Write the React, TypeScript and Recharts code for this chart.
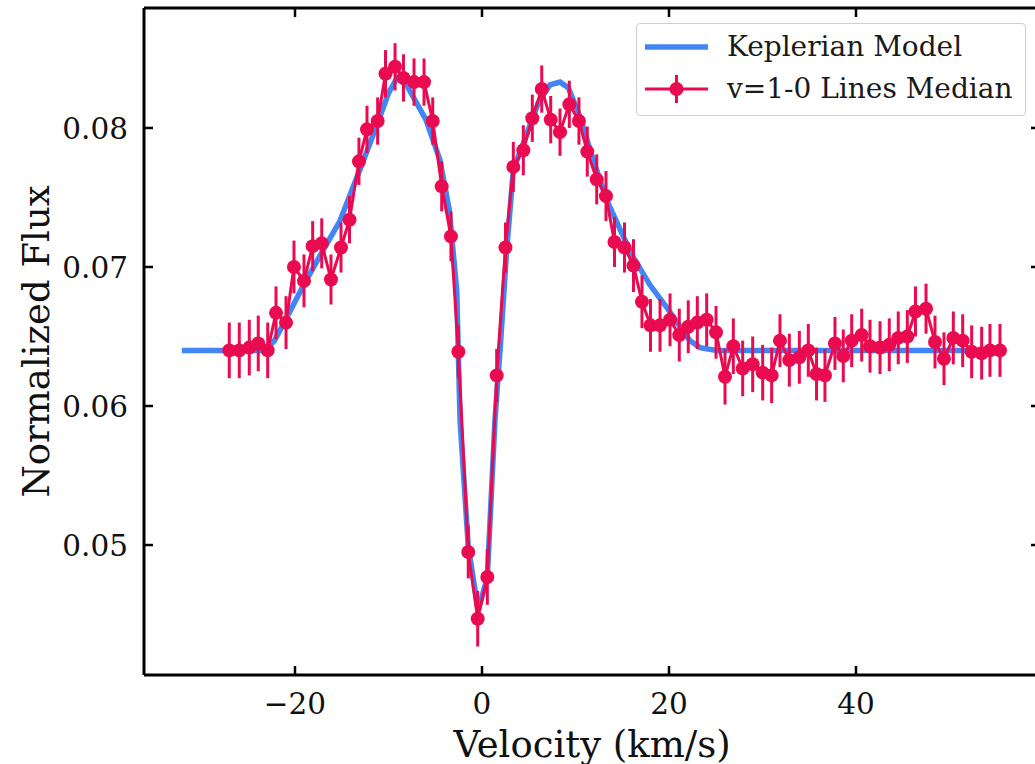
import React from 'react';
import { ComposedChart, Line, XAxis, YAxis, ErrorBar, Legend, Label } from 'recharts';

// Observed median line profile (v=1-0 lines)
const obsVelocity = [
  -27.03, -25.96, -24.89, -23.93, -22.92, -22.03, -20.96, -20.11, -19.04, -18.11,
  -17.14, -16.15, -15.08, -14.17, -13.16, -12.3, -11.16, -10.32, -9.3, -8.4,
  -7.27, -6.2, -5.27, -4.31, -3.32, -2.53, -1.47, -0.46, 0.57, 1.57,
  2.51, 3.35, 4.42, 5.38, 6.39, 7.35, 8.34, 9.34, 10.37, 11.26,
  12.27, 13.26, 14.17, 15.24, 16.2, 17.11, 18.02, 19.04, 20.11, 21.1,
  22.06, 23.03, 24.03, 25.03, 25.99, 26.88, 27.88, 28.95, 30.02, 30.98,
  31.87, 32.87, 33.94, 34.9, 35.78, 36.68, 37.75, 38.64, 39.54, 40.61,
  41.5, 42.57, 43.56, 44.52, 45.49, 46.36, 47.49, 48.45, 49.41, 50.41,
  51.41, 52.37, 53.44, 54.33, 55.4,
];
const obsFlux = [
  0.064, 0.064, 0.0642, 0.0645, 0.064, 0.0667, 0.066, 0.07, 0.069, 0.0715,
  0.0717, 0.0691, 0.0714, 0.0734, 0.0776, 0.0799, 0.0805, 0.0839, 0.0844, 0.0836,
  0.0833, 0.0833, 0.0805, 0.0758, 0.0722, 0.0639, 0.0495, 0.0447, 0.0477, 0.0622,
  0.0714, 0.0772, 0.0784, 0.0807, 0.0828, 0.0806, 0.0797, 0.0817, 0.0805, 0.0783,
  0.0763, 0.0751, 0.0718, 0.0714, 0.0701, 0.0675, 0.0658, 0.0658, 0.0662, 0.0651,
  0.0657, 0.066, 0.0662, 0.0653, 0.0621, 0.0643, 0.0627, 0.063, 0.0624, 0.0622,
  0.0647, 0.0633, 0.0635, 0.064, 0.0623, 0.0622, 0.0645, 0.0636, 0.0647, 0.0651,
  0.0643, 0.0642, 0.0644, 0.0649, 0.065, 0.0668, 0.067, 0.0646, 0.0634, 0.0649,
  0.0647, 0.0639, 0.0638, 0.064, 0.064,
];
const obsError = [
  0.002, 0.002, 0.002, 0.002, 0.002, 0.0019, 0.0019, 0.0019, 0.0019, 0.0018,
  0.0018, 0.0018, 0.0018, 0.0017, 0.0017, 0.0017, 0.0017, 0.0017, 0.0017, 0.0017,
  0.0017, 0.0017, 0.0017, 0.0018, 0.0018, 0.0019, 0.0019, 0.002, 0.002, 0.0019,
  0.0018, 0.0018, 0.0018, 0.0017, 0.0017, 0.0017, 0.0017, 0.0017, 0.0017, 0.0018,
  0.0018, 0.0018, 0.0018, 0.0018, 0.0019, 0.0019, 0.0019, 0.0019, 0.0019, 0.0019,
  0.0019, 0.0019, 0.0019, 0.0019, 0.002, 0.002, 0.002, 0.002, 0.002, 0.002,
  0.0019, 0.0019, 0.0019, 0.0019, 0.0019, 0.0019, 0.0019, 0.0019, 0.0019, 0.0019,
  0.0019, 0.0019, 0.0019, 0.0019, 0.0019, 0.0018, 0.0018, 0.0019, 0.0019, 0.0019,
  0.0019, 0.0019, 0.0019, 0.0019, 0.0019,
];

// Keplerian model profile
const modelVelocity = [
  -32.1, -23.2, -22.2, -21.0, -19.0, -17.0, -15.2, -13.0, -11.3, -10.0,
  -9.1, -8.0, -6.0, -4.5, -3.5, -2.7, -2.35, -1.47, -0.4, 0.57,
  1.04, 1.39, 1.93, 2.64, 3.35, 4.42, 6.02, 7.27, 8.34, 9.23,
  10.48, 11.9, 13.34, 15.11, 16.18, 17.97, 19.75, 21.18, 22.25, 23.32,
  25.1, 53.0,
];
const modelFlux = [
  0.064, 0.064, 0.0647, 0.0662, 0.0688, 0.0712, 0.0733, 0.0771, 0.0801, 0.0825,
  0.0836, 0.083, 0.0806, 0.0777, 0.0741, 0.0683, 0.059, 0.0499, 0.0453, 0.0477,
  0.0542, 0.059, 0.064, 0.0712, 0.077, 0.0789, 0.0818, 0.0831, 0.0833, 0.0829,
  0.0808, 0.0777, 0.0748, 0.0722, 0.0707, 0.0687, 0.0671, 0.0657, 0.0647, 0.0642,
  0.064, 0.064,
];

const xTicks = [-20, 0, 20, 40];
const yTicks = [0.05, 0.06, 0.07, 0.08];
const xDomain = [-36.15, 59.68];
const yDomain = [0.04065, 0.08863];

const RED = '#ea0a50';
const BLUE = '#4285f4';
const FONT = 'DejaVu Serif';
const TICK_LEN = 9;
const TICK_W = 2.5;
const TICK_FONT = 29.5;
const LABEL_FONT = 37;
const X_MARGIN = 17;
const Y_MARGIN = 16;

const obsData = obsVelocity.map((v, i) => ({ v, f: obsFlux[i], err: obsError[i] }));
const modelData = modelVelocity.map((v, i) => ({ v, f: modelFlux[i] }));

const fmtX = (t: number) => (t < 0 ? `\u2212${Math.abs(t)}` : `${t}`);
const fmtY = (t: number) => t.toFixed(2);

const BottomTick = (props: any) => {
  const { x, y, payload } = props;
  const axisY = y - X_MARGIN;
  return (
    <g>
      <line x1={x} x2={x} y1={axisY} y2={axisY - TICK_LEN} stroke="#000" strokeWidth={TICK_W} />
      <text x={x} y={y} dy="0.76em" textAnchor="middle" fontSize={TICK_FONT} fontFamily={FONT} fill="#111">
        {fmtX(payload.value)}
      </text>
    </g>
  );
};

const LeftTick = (props: any) => {
  const { x, y, payload } = props;
  const axisX = x + Y_MARGIN;
  return (
    <g>
      <line x1={axisX} x2={axisX + TICK_LEN} y1={y} y2={y} stroke="#000" strokeWidth={TICK_W} />
      <text x={x} y={y} dy="0.36em" textAnchor="end" fontSize={TICK_FONT} fontFamily={FONT} fill="#111">
        {fmtY(payload.value)}
      </text>
    </g>
  );
};

const TopTick = (props: any) => {
  const { x, y } = props;
  return <line x1={x} x2={x} y1={y} y2={y + TICK_LEN} stroke="#000" strokeWidth={TICK_W} />;
};

const RightTick = (props: any) => {
  const { x, y } = props;
  return <line x1={x} x2={x - TICK_LEN} y1={y} y2={y} stroke="#000" strokeWidth={TICK_W} />;
};

const LegendBox = () => (
  <div
    style={{
      position: 'relative',
      width: 388,
      height: 91,
      border: '1px solid #cfcfcf',
      borderRadius: 4,
      background: 'rgba(255,255,255,0.85)',
      fontFamily: FONT,
      fontSize: 28,
      color: '#1a1a1a',
    }}
  >
    <svg width={90} height={91} style={{ position: 'absolute', left: 0, top: 0 }}>
      <line x1={8} x2={71} y1={23} y2={23} stroke={BLUE} strokeWidth={5.5} />
      <line x1={8} x2={71} y1={65} y2={65} stroke={RED} strokeWidth={3} />
      <line x1={39.5} x2={39.5} y1={51} y2={79} stroke={RED} strokeWidth={3} />
      <circle cx={39.5} cy={65} r={7} fill={RED} />
    </svg>
    <div style={{ position: 'absolute', left: 90, top: 23, transform: 'translateY(-50%)', whiteSpace: 'nowrap', lineHeight: 1 }}>
      Keplerian Model
    </div>
    <div style={{ position: 'absolute', left: 90, top: 65, transform: 'translateY(-50%)', whiteSpace: 'nowrap', lineHeight: 1 }}>
      v=1-0 Lines Median
    </div>
  </div>
);

export default function App() {
  return (
    <div
      style={{
        position: 'absolute',
        left: 0,
        top: 0,
        width: 1035,
        height: 764,
        overflow: 'hidden',
        background: '#fff',
        fontFamily: FONT,
      }}
    >
      <ComposedChart width={1046} height={764} margin={{ top: 7, right: 5, bottom: 0, left: 0 }}>
        <XAxis
          dataKey="v"
          type="number"
          domain={xDomain}
          ticks={xTicks}
          allowDataOverflow
          height={89}
          tickSize={0}
          tickMargin={X_MARGIN}
          tickLine={false}
          axisLine={{ stroke: '#000', strokeWidth: 3 }}
          tick={<BottomTick />}
        >
          <Label
            content={({ viewBox }: any) => (
              <text
                x={viewBox.x + viewBox.width / 2}
                y={viewBox.y + 69}
                textAnchor="middle"
                dominantBaseline="central"
                fontSize={LABEL_FONT}
                fontFamily={FONT}
                fill="#111"
              >
                Velocity (km/s)
              </text>
            )}
          />
        </XAxis>
        <XAxis
          xAxisId="top"
          orientation="top"
          dataKey="v"
          type="number"
          domain={xDomain}
          ticks={xTicks}
          allowDataOverflow
          height={1}
          tickSize={0}
          tickMargin={0}
          tickLine={false}
          axisLine={{ stroke: '#000', strokeWidth: 3 }}
          tick={<TopTick />}
        />
        <YAxis
          type="number"
          domain={yDomain}
          ticks={yTicks}
          allowDataOverflow
          width={144}
          tickSize={0}
          tickMargin={Y_MARGIN}
          tickLine={false}
          axisLine={{ stroke: '#000', strokeWidth: 3 }}
          tick={<LeftTick />}
        >
          <Label
            content={({ viewBox }: any) => {
              const cx = 36;
              const cy = viewBox.y + viewBox.height / 2;
              return (
                <text
                  x={cx}
                  y={cy}
                  transform={`rotate(-90 ${cx} ${cy})`}
                  textAnchor="middle"
                  dominantBaseline="central"
                  fontSize={LABEL_FONT}
                  fontFamily={FONT}
                  fill="#111"
                >
                  Normalized Flux
                </text>
              );
            }}
          />
        </YAxis>
        <YAxis
          yAxisId="right"
          orientation="right"
          type="number"
          domain={yDomain}
          ticks={yTicks}
          allowDataOverflow
          width={1}
          tickSize={0}
          tickMargin={0}
          tickLine={false}
          axisLine={{ stroke: '#000', strokeWidth: 3 }}
          tick={<RightTick />}
        />
        <Line
          data={modelData}
          dataKey="f"
          xAxisId="top"
          yAxisId="right"
          stroke="none"
          dot={false}
          activeDot={false}
          legendType="none"
          isAnimationActive={false}
        />
        <Line
          data={modelData}
          dataKey="f"
          name="Keplerian Model"
          type="linear"
          stroke={BLUE}
          strokeWidth={5.5}
          dot={false}
          activeDot={false}
          isAnimationActive={false}
        />
        <Line
          data={obsData}
          dataKey="f"
          name="v=1-0 Lines Median"
          type="linear"
          stroke={RED}
          strokeWidth={3}
          dot={{ r: 7, fill: RED, stroke: RED, strokeWidth: 0 }}
          activeDot={false}
          isAnimationActive={false}
        >
          <ErrorBar dataKey="err" direction="y" width={0} stroke={RED} strokeWidth={3} />
        </Line>
        <Legend
          layout="vertical"
          align="center"
          verticalAlign="middle"
          wrapperStyle={{ position: 'absolute', left: 636, top: 23, width: 390, height: 93 }}
          content={() => <LegendBox />}
        />
      </ComposedChart>
    </div>
  );
}
